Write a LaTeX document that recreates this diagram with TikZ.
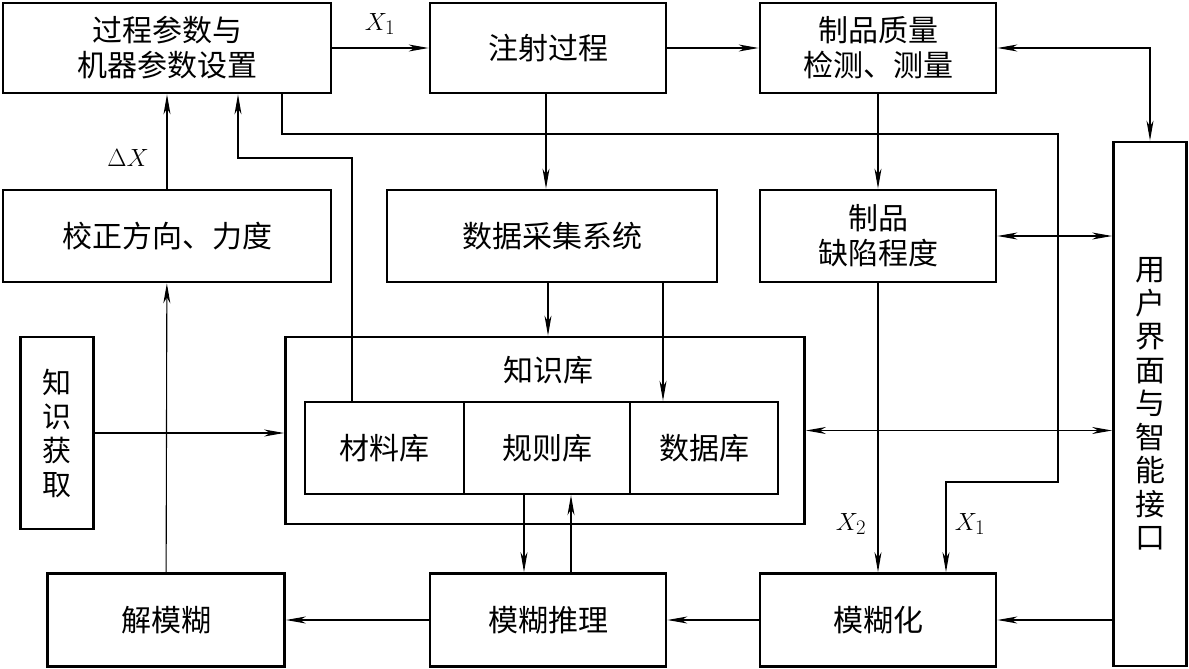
\documentclass[tikz,border=0pt]{standalone}
\usepackage{fontspec}
\newfontfamily\cjk{Noto Sans CJK SC}
\usetikzlibrary{arrows.meta,calc}
\tikzset{
  box/.style={draw, line width=2.8pt, inner sep=0pt, align=center, font=\cjk\fontsize{30}{35}\selectfont},
  cell/.style={draw, line width=2.4pt, inner sep=0pt, minimum width=#1, minimum height=92pt, font=\cjk\fontsize{30}{35}\selectfont},
  conn/.style={line width=1.1pt},
  arr/.style={conn, -{Stealth[length=20pt,width=7pt,inset=6pt]}},
  darr/.style={conn, {Stealth[length=20pt,width=7pt,inset=6pt]}-{Stealth[length=20pt,width=7pt,inset=6pt]}},
  lbl/.style={font=\fontsize{28}{32}\selectfont, inner sep=0pt}
}
\begin{document}
\begin{tikzpicture}[x=1pt,y=-1pt]
\useasboundingbox (0,0) rectangle (1189,669);
% boxes
\node[box, minimum width=328pt, minimum height=90pt] (b1) at (167,48) {过程参数与\\机器参数设置};
\node[box, minimum width=236pt, minimum height=90pt] (inj) at (548,48) {注射过程};
\node[box, minimum width=236pt, minimum height=90pt] (qual) at (878,48) {制品质量\\检测、测量};
\node[box, minimum width=328pt, minimum height=92pt] (corr) at (167,236) {校正方向、力度};
\node[box, minimum width=330pt, minimum height=92pt] (daq) at (552,236) {数据采集系统};
\node[box, minimum width=236pt, minimum height=92pt] (defect) at (878,236) {制品\\缺陷程度};
\node[box, minimum width=73pt, minimum height=524pt, font=\cjk\fontsize{30}{33.5}\selectfont] (ui) at (1150,404) {用\\户\\界\\面\\与\\智\\能\\接\\口};
\node[box, minimum width=73pt, minimum height=192pt, font=\cjk\fontsize{29}{34}\selectfont] (ka) at (57,433) {知\\识\\获\\取};
\node[box, minimum width=519pt, minimum height=187pt] (kb) at (545,430.5) {};
\node[font=\cjk\fontsize{30}{35}\selectfont] (kbl) at (548,370) {知识库};
\node[cell=159pt] (mat) at (384.5,448) {材料库};
\node[cell=166pt] (rule) at (547,448) {规则库};
\node[cell=148pt] (db) at (704,448) {数据库};
\node[box, minimum width=237pt, minimum height=93pt] (defz) at (166,620) {解模糊};
\node[box, minimum width=236pt, minimum height=93pt] (inf) at (548,620) {模糊推理};
\node[box, minimum width=236pt, minimum height=93pt] (fz) at (878,620) {模糊化};
% labels
\node[lbl] (lx1) at (380,24) {$X_1$};
\node[lbl] (ldx) at (128,158) {$\Delta X$};
\node[lbl] (lx2) at (851,524) {$X_2$};
\node[lbl] (lx1b) at (970,524) {$X_1$};
% coordinates
\coordinate (m1) at (352,158);
\coordinate (m2) at (238,158);
\coordinate (p0) at (282,134);
\coordinate (p1) at (1058,134);
\coordinate (p2) at (1058,482);
\coordinate (p3) at (946,482);
% connectors
\draw[arr] (b1) -- (inj);
\draw[arr] (inj) -- (qual);
\draw[darr] (qual.east) -| (ui.north);
\draw[arr] ([xshift=-2pt]inj.south) -- ([xshift=-2pt]inj.south |- daq.north);
\draw[arr] (qual) -- (defect);
\draw[darr] (defect.east) -- (defect.east -| ui.west);
\draw[arr] (corr) -- (b1);
\draw[arr] (daq.south -| inj.south) -- (kb.north -| inj.south);
\draw[arr] ([xshift=-41pt]db.north |- daq.south) -- ([xshift=-41pt]db.north);
\draw[arr] (m1 |- mat.north) -- (m1) -- (m2) -- (m2 |- b1.south);
\draw[arr] (p0 |- b1.south) -- (p0) -- (p1) -- (p2) -- (p3) -- (p3 |- fz.north);
\draw[arr] (defect) -- (fz);
\draw[arr] (ui.west |- fz.east) -- (fz.east);
\draw[arr] (fz) -- (inf);
\draw[arr] (inf) -- (defz);
\draw[arr] (defz) -- (corr);
\draw[arr] (ka.east) -- (ka.east -| kb.west);
\draw[darr] (kb.east) -- (kb.east -| ui.west);
\draw[arr] ([xshift=-23pt]rule.south) -- ([xshift=-23pt]rule.south |- inf.north);
\draw[arr] ([xshift=24pt]rule.south |- inf.north) -- ([xshift=24pt]rule.south);
\end{tikzpicture}
\end{document}
